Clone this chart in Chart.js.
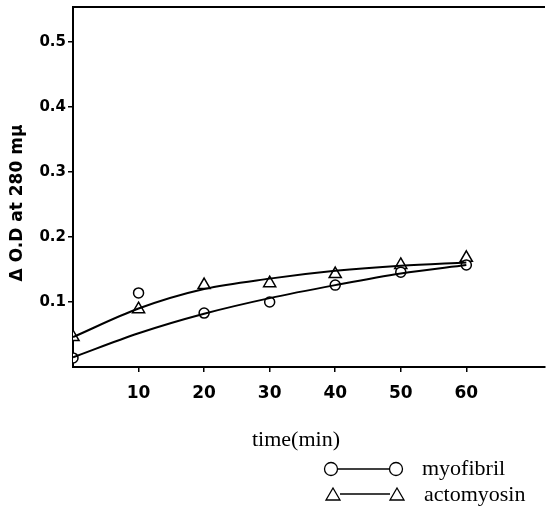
<!DOCTYPE html>
<html>
<head>
<meta charset="utf-8">
<script src="https://cdn.jsdelivr.net/npm/chart.js@4.4.1/dist/chart.umd.min.js"></script>
<style>
    html, body { margin: 0; padding: 0; background: #fff; }
    #wrap { width: 546px; height: 510px; }
</style>
</head>
<body>
<div id="wrap"><canvas id="odChart" width="546" height="510"></canvas></div>
<script>
// time (min)
const times = [0, 10, 20, 30, 40, 50, 60];

// measured points
const myofibril = [0.014, 0.114, 0.083, 0.100, 0.126, 0.146, 0.157];
const actomyosin = [0.046, 0.089, 0.126, 0.129, 0.143, 0.157, 0.168];

// smooth curves drawn through the points
const myofibrilCurve = [0.015, 0.052, 0.082, 0.106, 0.126, 0.144, 0.157];
const actomyosinCurve = [0.046, 0.090, 0.120, 0.136, 0.148, 0.156, 0.161];

const xTicks = [10, 20, 30, 40, 50, 60];
const yTicks = [0.1, 0.2, 0.3, 0.4, 0.5];

const toPoints = (ys) => times.map((t, i) => ({ x: t, y: ys[i] }));

const sansBold = 'bold 17px "DejaVu Sans", "Liberation Sans", sans-serif';
const serif = '22px "Liberation Serif", "DejaVu Serif", serif';

// frame top line, y title and the legend block
const extras = {
    id: 'extras',
    afterDraw(chart) {
        const ctx = chart.ctx;
        const area = chart.chartArea;
        ctx.save();
        ctx.strokeStyle = '#000';
        ctx.lineWidth = 2;
        ctx.beginPath();
        ctx.moveTo(area.left, area.top);
        ctx.lineTo(area.right, area.top);
        ctx.stroke();

        // y title
        ctx.save();
        ctx.translate(18, 203);
        ctx.rotate(-Math.PI / 2);
        ctx.fillStyle = '#000';
        ctx.font = sansBold;
        ctx.textAlign = 'center';
        ctx.textBaseline = 'middle';
        ctx.fillText('\u0394 O.D at 280 m\u03bc', 0, 0);
        ctx.restore();

        // x title
        ctx.fillStyle = '#000';
        ctx.font = serif;
        ctx.textAlign = 'left';
        ctx.textBaseline = 'middle';
        ctx.fillText('time(min)', 252, 440);

        // legend
        ctx.lineWidth = 1.3;
        const y1 = 469, y2 = 495;
        ctx.beginPath();
        ctx.arc(331, y1, 6.5, 0, Math.PI * 2);
        ctx.stroke();
        ctx.beginPath();
        ctx.arc(396, y1, 6.5, 0, Math.PI * 2);
        ctx.stroke();
        ctx.beginPath();
        ctx.moveTo(338, y1);
        ctx.lineTo(389, y1);
        ctx.stroke();

        const tri = (cx, cy) => {
            ctx.beginPath();
            ctx.moveTo(cx, cy - 6);
            ctx.lineTo(cx + 7, cy + 6);
            ctx.lineTo(cx - 7, cy + 6);
            ctx.closePath();
            ctx.stroke();
        };
        tri(333, y2 - 1);
        tri(397, y2 - 1);
        ctx.beginPath();
        ctx.moveTo(340, y2 - 1);
        ctx.lineTo(390, y2 - 1);
        ctx.stroke();

        ctx.fillText('myofibril', 422, y1);
        ctx.fillText('actomyosin', 424, y2);
        ctx.restore();
    }
};

const ctx = document.getElementById('odChart').getContext('2d');

new Chart(ctx, {
    type: 'scatter',
    data: {
        datasets: [
            {
                label: 'myofibril fit',
                data: toPoints(myofibrilCurve),
                showLine: true,
                borderColor: '#000',
                borderWidth: 2,
                pointRadius: 0,
                cubicInterpolationMode: 'monotone'
            },
            {
                label: 'actomyosin fit',
                data: toPoints(actomyosinCurve),
                showLine: true,
                borderColor: '#000',
                borderWidth: 2,
                pointRadius: 0,
                cubicInterpolationMode: 'monotone'
            },
            {
                label: 'myofibril',
                data: toPoints(myofibril),
                pointStyle: 'circle',
                pointRadius: 5,
                pointBackgroundColor: '#fff',
                pointBorderColor: '#000',
                pointBorderWidth: 1.5
            },
            {
                label: 'actomyosin',
                data: toPoints(actomyosin),
                pointStyle: 'triangle',
                pointRadius: 7,
                pointBackgroundColor: '#fff',
                pointBorderColor: '#000',
                pointBorderWidth: 1.5
            }
        ]
    },
    options: {
        responsive: false,
        animation: false,
        layout: { autoPadding: false, padding: { top: 7, right: 1, left: 0, bottom: 0 } },
        plugins: {
            legend: { display: false },
            tooltip: { enabled: false }
        },
        scales: {
            x: {
                type: 'linear',
                min: 0,
                max: 72,
                afterBuildTicks: (axis) => { axis.ticks = xTicks.map(v => ({ value: v })); },
                afterFit: (axis) => { axis.height = 143; axis.paddingRight = 0; axis.paddingLeft = 0; },
                border: { color: '#000', width: 2 },
                grid: { drawOnChartArea: false, color: '#000', tickLength: 5, lineWidth: 1.5 },
                ticks: {
                    color: '#000',
                    padding: 11,
                    font: { family: '"DejaVu Sans", "Liberation Sans", sans-serif', size: 17, weight: 'bold' }
                }
            },
            y: {
                min: 0,
                max: 0.554,
                afterBuildTicks: (axis) => { axis.ticks = yTicks.map(v => ({ value: v })); },
                afterFit: (axis) => { axis.width = 73; axis.paddingTop = 0; axis.paddingBottom = 0; },
                border: { color: '#000', width: 2 },
                grid: { drawOnChartArea: false, color: '#000', tickLength: 5, lineWidth: 1.5 },
                ticks: {
                    color: '#000',
                    padding: 2,
                    callback: (v) => v.toFixed(1),
                    font: { family: '"DejaVu Sans", "Liberation Sans", sans-serif', size: 15, weight: 'bold' }
                }
            }
        }
    },
    plugins: [extras]
});
</script>
</body>
</html>
